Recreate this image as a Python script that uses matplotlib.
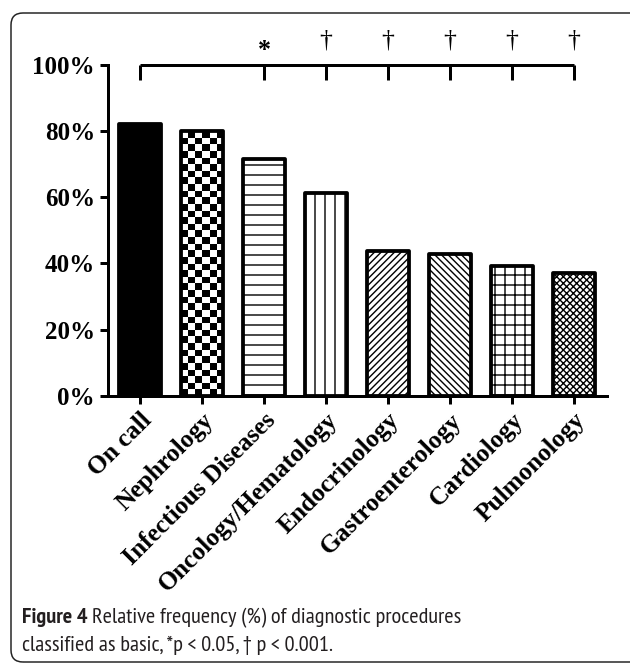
import matplotlib.pyplot as plt
import numpy as np
from matplotlib import font_manager
from matplotlib.patches import FancyBboxPatch
from matplotlib.transforms import IdentityTransform

# ── data ───────────────────────────────────────────────────────────────────
categories = ["On call", "Nephrology", "Infectious Diseases", "Oncology/Hematology",
              "Endocrinology", "Gastroenterology", "Cardiology", "Pulmonology"]
values = [82.2, 80.0, 71.7, 61.2, 43.7, 42.9, 39.2, 37.2]
yticks = [0, 20, 40, 60, 80, 100]
ytick_labels = ["0%", "20%", "40%", "60%", "80%", "100%"]
bracket_idx = [0, 2, 3, 4, 5, 6, 7]
sig_marks = {2: "*", 3: "\u2020", 4: "\u2020", 5: "\u2020", 6: "\u2020", 7: "\u2020"}

# hatch per bar; None = special (solid / checkerboard)
hatches = [None, None, "-", "|", "///", "\\\\\\", "+", "xxx"]

DPI = 60
PT = 72 / DPI   # points per pixel
SERIF = "Liberation Serif"


def pick_caption_font():
    """First condensed-ish sans family that has both regular and bold faces."""
    candidates = ["Myriad Pro", "PT Sans Narrow", "Fira Sans Condensed",
                  "Roboto Condensed", "Open Sans", "DejaVu Sans"]
    weights = {}
    for f in font_manager.fontManager.ttflist:
        weights.setdefault(f.name, set()).add(f.weight)
    for name in candidates:
        w = weights.get(name, set())
        if 400 in w and 700 in w:
            return name
    return "DejaVu Sans"


CAP = [pick_caption_font(), "DejaVu Sans"]

fig = plt.figure(figsize=(630 / DPI, 663 / DPI), dpi=DPI)
ax = fig.add_axes([108 / 630, 1 - 395.7 / 663, (606.7 - 108) / 630, (395.7 - 65) / 663])

plt.rcParams["hatch.linewidth"] = 1.4 * PT
x = np.arange(len(categories))
bars = ax.bar(x, values, width=0.68, color="white", edgecolor="black",
              linewidth=3.8 * PT, zorder=3)
for i, b in enumerate(bars):
    b.set_joinstyle("round")
    if i == 0:
        b.set_facecolor("black")
    elif i == 1:
        b.set_facecolor("none")
    elif hatches[i]:
        b.set_hatch(hatches[i])

# checkerboard fill for Nephrology
b = bars[1]
bx, by, bw, bh = b.get_x(), b.get_y(), b.get_width(), b.get_height()
nrows = int(np.ceil(bh / 2.0))
checker = (np.indices((nrows, 6)).sum(axis=0) % 2).astype(float)
im = ax.imshow(checker, cmap="gray", vmin=0, vmax=1,
               extent=(bx, bx + bw, by, by + nrows * 2.0),
               origin="lower", aspect="auto", interpolation="nearest", zorder=2)
im.set_clip_path(b)

ax.set_xlim(-0.516, 7.527)
ax.set_ylim(0, 100)
ax.set_yticks(yticks)
ax.set_yticklabels(ytick_labels, fontfamily=SERIF, fontweight="bold", fontsize=25 * PT)
ax.set_xticks(x)
ax.set_xticklabels(categories, rotation=45, ha="right", va="top", rotation_mode="anchor",
                   fontfamily=SERIF, fontweight="bold", fontsize=25.5 * PT)
ax.tick_params(axis="both", direction="out", length=8 * PT, width=3 * PT, pad=5 * PT)
for side in ["top", "right"]:
    ax.spines[side].set_visible(False)
for side in ["left", "bottom"]:
    ax.spines[side].set_linewidth(3 * PT)

# significance bracket
ax.plot([bracket_idx[0], bracket_idx[-1]], [100, 100], color="black",
        linewidth=3 * PT, clip_on=False, solid_capstyle="butt")
for i in bracket_idx:
    ax.plot([i, i], [100, 95.5], color="black", linewidth=3 * PT, clip_on=False,
            solid_capstyle="butt")
for i, m in sig_marks.items():
    ypos = 104.5 if m == "*" else 107.3
    ax.text(i, ypos, m, ha="center", va="center", fontfamily=SERIF,
            fontweight="bold" if m == "*" else "normal", fontsize=26 * PT, clip_on=False)

# rounded frame
frame = FancyBboxPatch((11, 1), 640, 649, boxstyle="round,pad=0,rounding_size=12",
                       transform=IdentityTransform(), facecolor="none",
                       edgecolor="#222222", linewidth=1.5 * PT)
fig.add_artist(frame)

# caption — size chosen so that the first line is ~438 px wide
line1_rest = "Relative frequency (%) of diagnostic procedures"
line2 = "classified as basic, *p\u2009<\u20090.05, \u2020 p\u2009<\u20090.001."
trial = 20 * PT
renderer = fig.canvas.get_renderer()
ta = fig.text(0, 0, "Figure 4", fontweight="bold", fontsize=trial, fontfamily=CAP)
tb = fig.text(0, 0, line1_rest, fontsize=trial, fontfamily=CAP)
w = ta.get_window_extent(renderer).width + tb.get_window_extent(renderer).width + 5
ta.remove()
tb.remove()
cap_size = min(trial * 438 / w, 25 * PT)

t1 = fig.text(22 / 630, 1 - 623 / 663, "Figure 4", fontweight="bold", fontsize=cap_size,
              fontfamily=CAP, color="#231f20")
ext = t1.get_window_extent(renderer)
fig.text((ext.x1 + 5) / 630, 1 - 623 / 663, line1_rest,
         fontsize=cap_size, fontfamily=CAP, color="#231f20")
fig.text(22 / 630, 1 - 651 / 663, line2,
         fontsize=cap_size, fontfamily=CAP, color="#231f20")

fig.savefig("out.png", dpi=DPI)
